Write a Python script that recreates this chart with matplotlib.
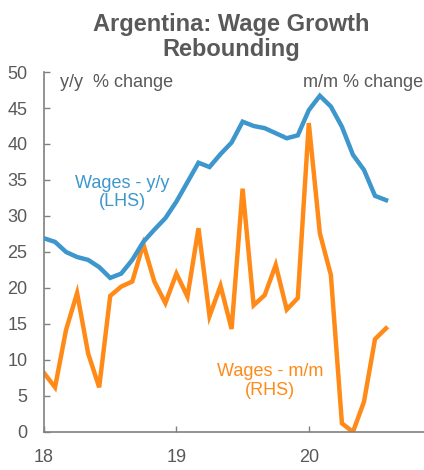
import matplotlib
matplotlib.use("Agg")
import matplotlib.pyplot as plt
import numpy as np

plt.rcParams['font.family'] = ['Liberation Sans', 'DejaVu Sans']

# Monthly data, Jan 2018 .. Aug 2020
year_start = 18
months = list(range(32))
wages_yy = [26.9, 26.4, 25.0, 24.3, 23.9, 22.9, 21.4, 22.0, 23.9, 26.4, 28.1, 29.7,
            32.0, 34.7, 37.4, 36.8, 38.6, 40.2, 43.1, 42.5, 42.2, 41.5, 40.8, 41.2,
            44.7, 46.7, 45.2, 42.4, 38.5, 36.4, 32.8, 32.2]
wages_mm = [8.2, 6.2, 14.2, 19.3, 10.9, 6.2, 18.9, 20.2, 20.9, 26.1, 20.9, 17.9,
            22.0, 18.8, 28.3, 16.1, 20.3, 14.3, 33.8, 17.6, 19.0, 23.2, 17.0, 18.6,
            42.9, 27.6, 21.8, 1.2, 0.0, 4.2, 12.9, 14.4]
x_ticks = [18, 19, 20]
x_ticklabels = ['18', '19', '20']
y_ticks = list(range(0, 55, 5))

x = [year_start + m / 12 for m in months]

gray = '#595959'
blue = '#3D97CC'
orange = '#FF8A17'

fig = plt.figure(figsize=(4.24, 4.70), dpi=100)
ax = fig.add_axes([0.1038, 0.0809, 0.8962, 0.7659])
ax2 = ax.twinx()

ax.plot(x, wages_yy, color=blue, lw=3.2, solid_joinstyle='miter', zorder=3)
ax2.plot(x, wages_mm, color=orange, lw=3.2, solid_joinstyle='miter', zorder=2)

for a in (ax, ax2):
    a.set_xlim(18, 20.87)
    a.set_ylim(0, 50)
ax.set_zorder(ax2.get_zorder() + 1)
ax.patch.set_visible(False)

ax.set_yticks(y_ticks)
ax.set_xticks(x_ticks)
ax.set_xticklabels(x_ticklabels)
ax.tick_params(axis='both', direction='in', length=4, width=1, color='#808080',
               labelcolor=gray, labelsize=13)
ax.tick_params(axis='y', pad=12)
ax.tick_params(axis='x', pad=12)
for s in ('top', 'right'):
    ax.spines[s].set_visible(False)
for s in ('left', 'bottom'):
    ax.spines[s].set_color('#808080')
    ax.spines[s].set_linewidth(1.2)

ax2.axis('off')

fig.text(0.545, 0.921, 'Argentina: Wage Growth\nRebounding', ha='center', va='center',
         fontsize=17, fontweight='bold', color=gray, linespacing=1.08)

ax.text(18.12, 48.5, 'y/y  % change', ha='left', va='center', fontsize=13, color=gray)
ax.text(20.86, 48.5, 'm/m % change', ha='right', va='center', fontsize=13, color=gray)
ax.text(18.59, 33.3, 'Wages - y/y\n(LHS)', ha='center', va='center', fontsize=13,
        color=blue, linespacing=1.1)
ax.text(19.71, 7.1, 'Wages - m/m\n(RHS)', ha='center', va='center', fontsize=13,
        color=orange, linespacing=1.1)

fig.savefig('out.png', dpi=100)
